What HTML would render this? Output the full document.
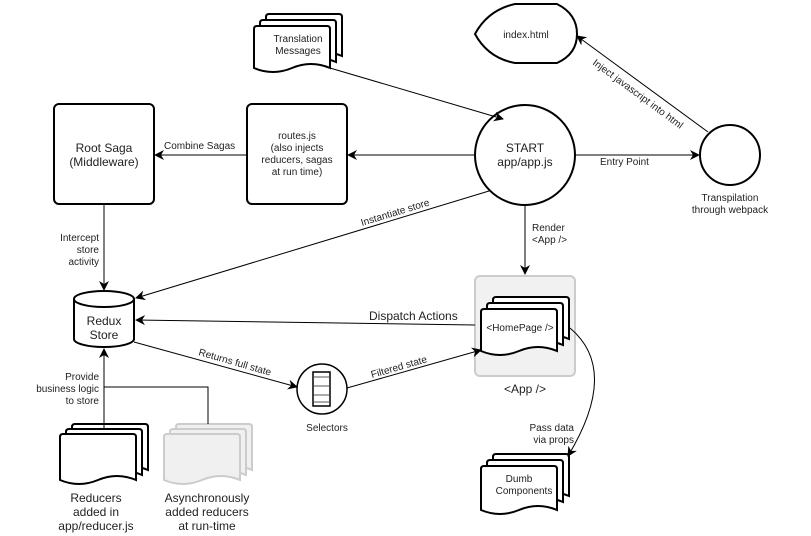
<!DOCTYPE html>
<html><head><meta charset="utf-8"><style>
html,body{margin:0;padding:0;background:#fff}
svg{display:block}
text{font-family:"Liberation Sans",sans-serif;fill:#222}
.l{font-size:10px}
.n{font-size:12px}
</style></head><body>
<svg width="811" height="536" viewBox="0 0 811 536" xmlns="http://www.w3.org/2000/svg">
<defs>
<marker id="a" markerWidth="10" markerHeight="10" refX="9" refY="5" orient="auto" markerUnits="userSpaceOnUse">
<path d="M0,0 L10,5 L0,10 L3,5 Z" fill="#000"/></marker>
</defs>
<g fill="none" stroke="#000" stroke-width="1">
<!-- Translation doc -->
<g stroke-width="2" fill="#fff">
<path d="M269,14 H339 Q342,14 342,17 V56 Q323,48 304,56 Q285,64 266,56 V17 Q266,14 269,14 Z"/>
<path d="M263,20 H333 Q336,20 336,23 V62 Q317,54 298,62 Q279,70 260,62 V23 Q260,20 263,20 Z"/>
<path d="M257,26 H327 Q330,26 330,29 V68 Q311,60 292,68 Q273,76 254,68 V29 Q254,26 257,26 Z"/>
</g>
<!-- index.html -->
<path d="M515,4 H557 Q577,14 577,34 Q577,54 557,63 H515 Q488,58 475,34 Q488,10 515,4 Z" stroke-width="2" fill="#fff"/>
<!-- Root saga, routes -->
<rect x="54" y="104" width="100" height="100" rx="5" stroke-width="2" fill="#fff"/>
<rect x="247" y="104" width="100" height="100" rx="5" stroke-width="2" fill="#fff"/>
<!-- START -->
<circle cx="525" cy="155" r="50" stroke-width="2" fill="#fff"/>
<circle cx="730" cy="155" r="30" stroke-width="2" fill="#fff"/>
<!-- Redux store -->
<path d="M74,299 V339 A30,8 0 0 0 134,339 V299" stroke-width="2" fill="#fff"/>
<ellipse cx="104" cy="299" rx="30" ry="8" stroke-width="2" fill="#fff"/>
<!-- Selectors -->
<circle cx="322" cy="389" r="25" stroke-width="1.5" fill="#fff"/>
<rect x="313" y="372" width="17" height="34" stroke-width="1.5"/>
<path d="M314,377 H329 M314,386 H329 M314,395 H329 M314,402 H329" stroke="#555"/>
<!-- App container -->
<rect x="475" y="276" width="100" height="100" rx="5" fill="#f1f1f1" stroke="#ccc" stroke-width="2"/>
<!-- HomePage doc -->
<g stroke-width="2" fill="#fff">
<path d="M496,297 H566 Q569,297 569,300 V339 Q550,331 531,339 Q512,347 493,339 V300 Q493,297 496,297 Z"/>
<path d="M490,303 H560 Q563,303 563,306 V345 Q544,337 525,345 Q506,353 487,345 V306 Q487,303 490,303 Z"/>
<path d="M484,309 H554 Q557,309 557,312 V351 Q538,343 519,351 Q500,359 481,351 V312 Q481,309 484,309 Z"/>
</g>
<!-- Dumb doc -->
<g stroke-width="2" fill="#fff">
<path d="M496,454 H566 Q569,454 569,457 V496 Q550,488 531,496 Q512,504 493,496 V457 Q493,454 496,454 Z"/>
<path d="M490,460 H560 Q563,460 563,463 V502 Q544,494 525,502 Q506,510 487,502 V463 Q487,460 490,460 Z"/>
<path d="M484,466 H554 Q557,466 557,469 V510 Q538,502 519,510 Q500,518 481,510 V469 Q481,466 484,466 Z"/>
</g>
<!-- Reducers doc -->
<g stroke-width="2" fill="#fff">
<path d="M75,424 H145 Q148,424 148,427 V470 Q129,462 110,470 Q91,478 72,470 V427 Q72,424 75,424 Z"/>
<path d="M69,429 H139 Q142,429 142,432 V475 Q123,467 104,475 Q85,483 66,475 V432 Q66,429 69,429 Z"/>
<path d="M63,434 H133 Q136,434 136,437 V480 Q117,472 98,480 Q79,488 60,480 V437 Q60,434 63,434 Z"/>
</g>
<g stroke-width="2" fill="#f0f0f0" stroke="#ccc">
<path d="M179,424 H249 Q252,424 252,427 V470 Q233,462 214,470 Q195,478 176,470 V427 Q176,424 179,424 Z"/>
<path d="M173,429 H243 Q246,429 246,432 V475 Q227,467 208,475 Q189,483 170,475 V432 Q170,429 173,429 Z"/>
<path d="M167,434 H237 Q240,434 240,437 V480 Q221,472 202,480 Q183,488 164,480 V437 Q164,434 167,434 Z"/>
</g>
<!-- connectors -->
<path d="M330,68 L503,119" marker-end="url(#a)"/>
<path d="M475,155 L348,155" marker-end="url(#a)"/>
<path d="M247,155 L155,155" marker-end="url(#a)"/>
<path d="M575,155 L699,155" marker-end="url(#a)"/>
<path d="M708,132 L577,36" marker-end="url(#a)"/>
<path d="M489,191 L136,298" marker-end="url(#a)"/>
<path d="M525,205 L525,274" marker-end="url(#a)"/>
<path d="M104,204 L104,290" marker-end="url(#a)"/>
<path d="M475,325 L136,320" marker-end="url(#a)"/>
<path d="M134,342 L297,387" marker-end="url(#a)"/>
<path d="M347,388 L481,350" marker-end="url(#a)"/>
<path d="M104,428 L104,349" marker-end="url(#a)"/>
<path d="M208,424 V387 H104" stroke-width="1"/>
<path d="M570,328 Q620,370 568,456" marker-end="url(#a)"/>
</g>
<!-- node text -->
<g text-anchor="middle">
<text class="l" x="298" y="42">Translation</text>
<text class="l" x="298" y="54">Messages</text>
<text class="l" x="526" y="38">index.html</text>
<text class="n" x="104" y="152">Root Saga</text>
<text class="n" x="104" y="166">(Middleware)</text>
<text class="l" x="297" y="139">routes.js</text>
<text class="l" x="297" y="151">(also injects</text>
<text class="l" x="297" y="163">reducers, sagas</text>
<text class="l" x="297" y="175">at run time)</text>
<text class="n" x="525" y="152">START</text>
<text class="n" x="525" y="166">app/app.js</text>
<text class="l" x="730" y="201">Transpilation</text>
<text class="l" x="730" y="213">through webpack</text>
<text class="n" x="104" y="325">Redux</text>
<text class="n" x="104" y="339">Store</text>
<text class="l" x="327" y="431">Selectors</text>
<text class="l" x="520" y="331">&lt;HomePage /&gt;</text>
<text class="n" x="525" y="393">&lt;App /&gt;</text>
<text class="l" x="519" y="482">Dumb</text>
<text class="l" x="524" y="494">Components</text>
<text class="n" x="96" y="502">Reducers</text>
<text class="n" x="96" y="516">added in</text>
<text class="n" x="96" y="530">app/reducer.js</text>
<text class="n" x="207" y="502">Asynchronously</text>
<text class="n" x="207" y="516">added reducers</text>
<text class="n" x="207" y="530">at run-time</text>
</g>
<!-- labels -->
<text class="l" x="164" y="149">Combine Sagas</text>
<text class="l" x="600" y="165">Entry Point</text>
<text class="l" transform="translate(592,64) rotate(36.5)">Inject javascript into html</text>
<text class="l" transform="translate(362,226) rotate(-17)">Instantiate store</text>
<text class="l" x="532" y="231">Render</text>
<text class="l" x="532" y="243">&lt;App /&gt;</text>
<g text-anchor="end">
<text class="l" x="99" y="241">Intercept</text>
<text class="l" x="99" y="253">store</text>
<text class="l" x="99" y="265">activity</text>
<text class="l" x="99" y="380">Provide</text>
<text class="l" x="99" y="392">business logic</text>
<text class="l" x="99" y="404">to store</text>
<text class="l" x="574" y="431">Pass data</text>
<text class="l" x="574" y="443">via props</text>
</g>
<text class="n" x="369" y="320">Dispatch Actions</text>
<text class="l" transform="translate(198,355) rotate(16)">Returns full state</text>
<text class="l" transform="translate(372,378) rotate(-16)">Filtered state</text>
</svg>
</body></html>
